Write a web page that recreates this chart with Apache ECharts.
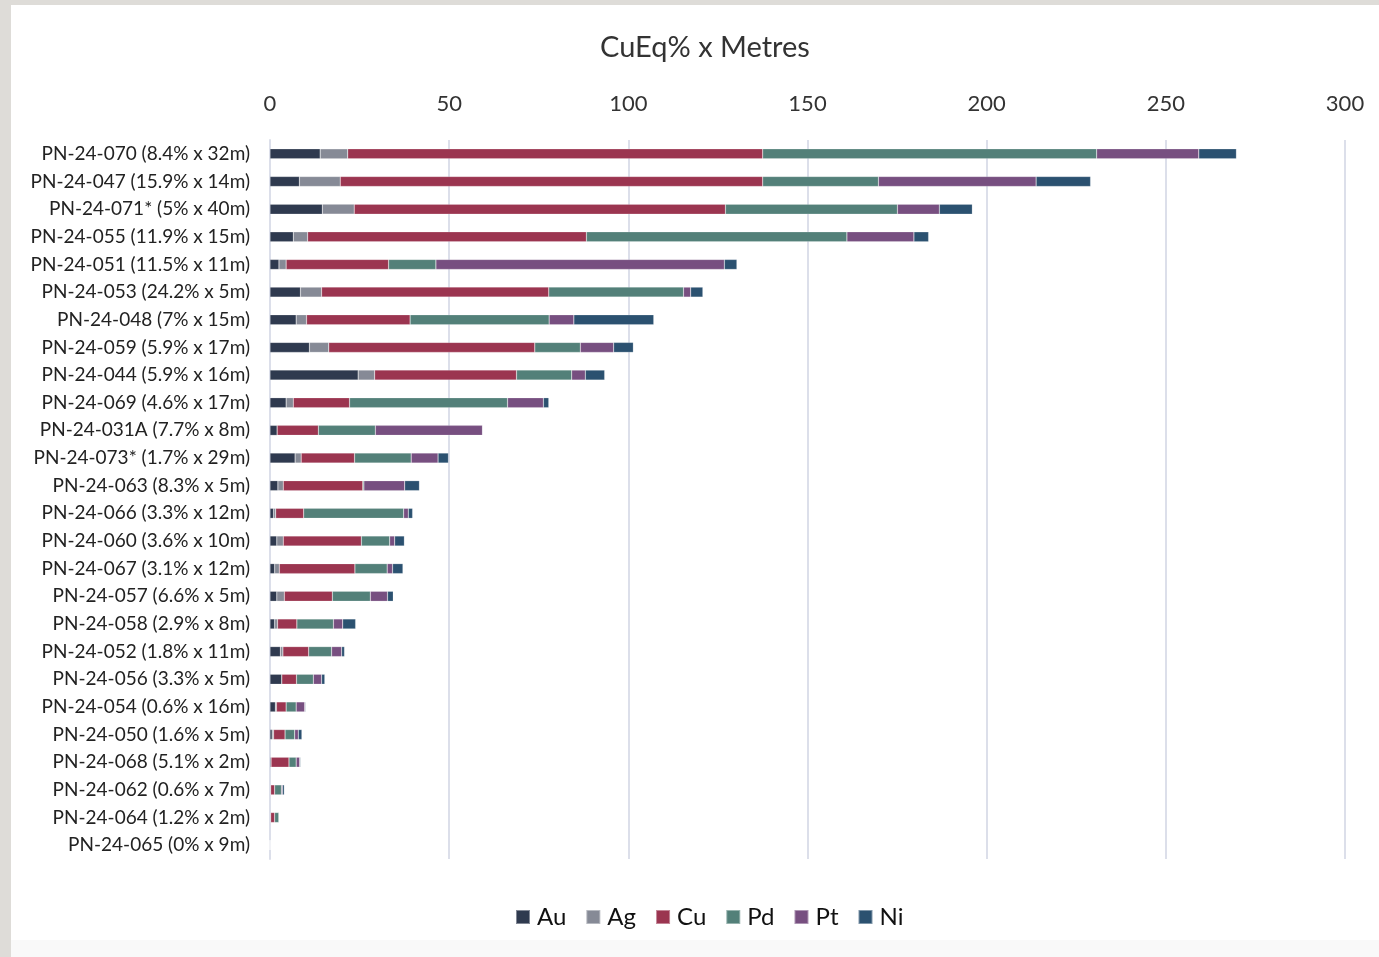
<!DOCTYPE html>
<html>
  <head>
    <title></title>
    <meta charset="UTF-8" />
    <script src="https://cdn.jsdelivr.net/npm/echarts@6/dist/echarts.min.js"></script>
    <style>
      body { margin: 0; background: #f9f9f9; }
      #edgeLeft { position: absolute; left: 0; top: 0; width: 11px; height: 957px; background: #dedcd8; }
      #edgeTop { position: absolute; left: 0; top: 0; width: 1379px; height: 5px; background: #dedcd8; }
      #main { position: absolute; left: 11px; top: 5px; background: #fff; }
    </style>
  </head>
  <body>
    <div id="edgeLeft"></div>
    <div id="edgeTop"></div>
    <div id="main"></div>
    <script>
      const width = 1368;
      const height = 935;
      const main = document.getElementById('main');
      main.style.width = `${width}px`;
      main.style.height = `${height}px`;

      const holes = [
        'PN-24-070 (8.4% x 32m)', 'PN-24-047 (15.9% x 14m)', 'PN-24-071* (5% x 40m)',
        'PN-24-055 (11.9% x 15m)', 'PN-24-051 (11.5% x 11m)', 'PN-24-053 (24.2% x 5m)',
        'PN-24-048 (7% x 15m)', 'PN-24-059 (5.9% x 17m)', 'PN-24-044 (5.9% x 16m)',
        'PN-24-069 (4.6% x 17m)', 'PN-24-031A (7.7% x 8m)', 'PN-24-073* (1.7% x 29m)',
        'PN-24-063 (8.3% x 5m)', 'PN-24-066 (3.3% x 12m)', 'PN-24-060 (3.6% x 10m)',
        'PN-24-067 (3.1% x 12m)', 'PN-24-057 (6.6% x 5m)', 'PN-24-058 (2.9% x 8m)',
        'PN-24-052 (1.8% x 11m)', 'PN-24-056 (3.3% x 5m)', 'PN-24-054 (0.6% x 16m)',
        'PN-24-050 (1.6% x 5m)', 'PN-24-068 (5.1% x 2m)', 'PN-24-062 (0.6% x 7m)',
        'PN-24-064 (1.2% x 2m)', 'PN-24-065 (0% x 9m)'
      ];

      const au = [14.0, 8.2, 14.6, 6.5, 2.5, 8.5, 7.3, 11.0, 24.6, 4.5, 2.0, 7.0, 2.2, 1.0, 1.9, 1.3, 1.9, 1.3, 2.9, 3.3, 1.5, 0.6, 0.3, 0.2, 0.2, 0];
      const ag = [7.7, 11.4, 8.9, 4.0, 2.0, 5.9, 2.9, 5.4, 4.6, 2.0, 0, 1.7, 1.5, 0.6, 1.8, 1.3, 2.1, 0.8, 0.7, 0, 0.3, 0.4, 0, 0, 0, 0];
      const cu = [115.8, 117.9, 103.6, 77.8, 28.6, 63.4, 28.9, 57.5, 39.6, 15.7, 11.5, 14.9, 22.2, 7.8, 21.8, 21.1, 13.4, 5.4, 7.2, 4.1, 2.7, 3.2, 5.0, 1.1, 1.1, 0];
      const pd = [93.2, 32.3, 48.0, 72.7, 13.2, 37.6, 38.8, 12.7, 15.4, 44.1, 15.9, 15.8, 0.3, 27.9, 7.9, 9.0, 10.6, 10.2, 6.4, 4.7, 2.8, 2.7, 2.0, 1.9, 1.2, 0];
      const pt = [28.5, 44.0, 11.7, 18.7, 80.5, 2.0, 6.9, 9.3, 3.8, 10.0, 29.9, 7.5, 11.4, 1.3, 1.4, 1.5, 4.8, 2.6, 2.8, 2.3, 2.4, 1.0, 1.0, 0.3, 0, 0];
      const ni = [10.5, 15.2, 9.2, 4.1, 3.5, 3.4, 22.3, 5.5, 5.4, 1.5, 0, 2.9, 4.1, 1.2, 2.7, 2.9, 1.6, 3.6, 0.8, 0.9, 0.2, 1.0, 0.2, 0.5, 0.1, 0];

      const metals = [
        { name: 'Au', data: au, color: '#2f3a4f' },
        { name: 'Ag', data: ag, color: '#868a96' },
        { name: 'Cu', data: cu, color: '#9b3550' },
        { name: 'Pd', data: pd, color: '#538079' },
        { name: 'Pt', data: pt, color: '#774f80' },
        { name: 'Ni', data: ni, color: '#2b5170' }
      ];

      const font = 'Lato, "Noto Sans", sans-serif';

      const myChart = echarts.init(main);
      const option = {
        animation: false,
        backgroundColor: '#fff',
        textStyle: { fontFamily: font },
        title: {
          text: 'CuEq% x Metres',
          left: 589,
          top: 28,
          padding: 0,
          textStyle: { fontFamily: font, fontSize: 29, fontWeight: 'normal', color: '#333' }
        },
        legend: {
          bottom: 6,
          left: 499,
          itemWidth: 14,
          itemHeight: 14,
          itemGap: 19,
          icon: 'rect',
          textStyle: { fontFamily: font, fontSize: 24, color: '#111', padding: [0, 0, 0, 2] },
          data: metals.map(m => m.name)
        },
        grid: {
          left: 259,
          right: 34,
          top: 135,
          bottom: 81,
          containLabel: false
        },
        xAxis: {
          type: 'value',
          position: 'top',
          min: 0,
          max: 300,
          interval: 50,
          axisLine: { show: false },
          axisTick: { show: false },
          axisLabel: { fontFamily: font, fontSize: 22, color: '#333', margin: 25 },
          splitLine: { lineStyle: { color: '#dcdfea', width: 2 } }
        },
        yAxis: {
          type: 'category',
          inverse: true,
          data: holes,
          axisLine: { show: true, lineStyle: { color: '#dcdfea', width: 2 } },
          axisTick: { show: false },
          axisLabel: { fontFamily: font, fontSize: 19, color: '#222', margin: 20 }
        },
        series: metals.map(m => ({
          name: m.name,
          type: 'bar',
          stack: 'total',
          barWidth: 10,
          itemStyle: { color: m.color, borderColor: 'rgba(255,255,255,0.4)', borderWidth: 0.5 },
          data: m.data
        }))
      };
      myChart.setOption(option);
    </script>
  </body>
</html>
